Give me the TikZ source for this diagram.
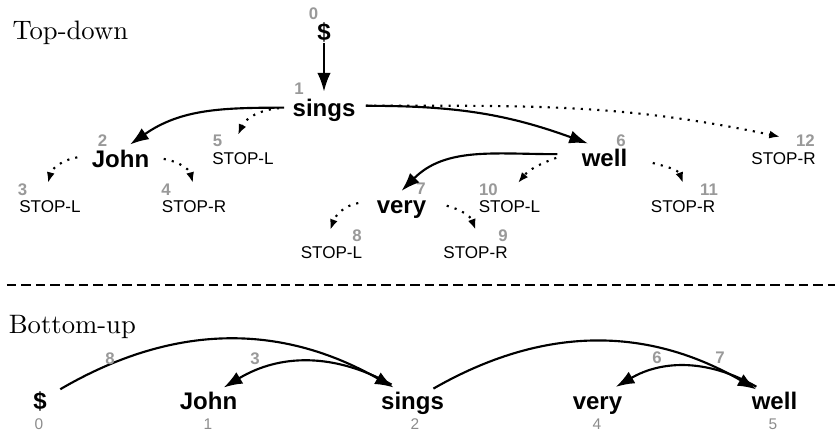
\documentclass[tikz,border=0pt]{standalone}
\usepackage{fontspec}
\newfontfamily\wordfont{Liberation Sans}
\usetikzlibrary{arrows.meta}

\tikzset{
	word/.style={font=\wordfont\bfseries\fontsize{9}{10}\selectfont, inner sep=0pt, anchor=base},
	stopw/.style={font=\wordfont\fontsize{6.4}{7}\selectfont, inner sep=0pt, anchor=base},
	idx/.style={font=\wordfont\bfseries\fontsize{6.3}{7}\selectfont, text=black!40, inner sep=0pt, anchor=base},
	posnum/.style={font=\wordfont\fontsize{5.8}{6}\selectfont, text=black!45, inner sep=0pt, anchor=base},
	title/.style={font=\fontsize{10}{12}\selectfont, inner sep=0pt, anchor=base west},
	dep/.style={line width=0.8pt, -{Latex[length=7pt,width=5pt]}},
	stoparc/.style={line width=0.8pt, dash pattern=on 0.8pt off 2.3pt, -{Latex[length=4pt,width=3pt]}},
	sepline/.style={line width=0.6pt, dash pattern=on 3.5pt off 1.9pt},
}

\begin{document}
\begin{tikzpicture}[x=0.375pt, y=0.375pt]
	\useasboundingbox (0,0) rectangle (835,-432);

	% top-down
	\node[title] (tdtitle) at (12,-39.3) {Top-down};
	\node[word] (dollar) at (324,-41) {\$};
	\node[word] (sings) at (324,-116.5) {sings};
	\node[word] (john) at (120.5,-167.5) {John};
	\node[word] (well) at (604.5,-166.5) {well};
	\node[word] (very) at (401.5,-214) {very};
	\node[stopw] (stop5) at (243,-165) {STOP-L};
	\node[stopw] (stop12) at (783.5,-165) {STOP-R};
	\node[stopw] (stop3) at (50,-213) {STOP-L};
	\node[stopw] (stop4) at (194,-213) {STOP-R};
	\node[stopw] (stop10) at (509.5,-213) {STOP-L};
	\node[stopw] (stop11) at (683,-213) {STOP-R};
	\node[stopw] (stop8) at (331.5,-258.5) {STOP-L};
	\node[stopw] (stop9) at (475.5,-259) {STOP-R};

	\node[idx] (n0) at (313.5,-20) {0};
	\node[idx] (n1) at (299,-95) {1};
	\node[idx] (n2) at (102.5,-147) {2};
	\node[idx] (n3) at (22.5,-196) {3};
	\node[idx] (n4) at (166,-196) {4};
	\node[idx] (n5) at (217.5,-147) {5};
	\node[idx] (n6) at (621,-147) {6};
	\node[idx] (n7) at (421,-195) {7};
	\node[idx] (n8) at (357,-242) {8};
	\node[idx] (n9) at (503,-242) {9};
	\node[idx] (n10) at (488.5,-196) {10};
	\node[idx] (n11) at (709,-196) {11};
	\node[idx] (n12) at (805.5,-147) {12};

	\draw[dep] (dollar.south) -- ([yshift=2.6pt]sings.north);
	\draw[dep] ([xshift=-3pt,yshift=1pt]sings.west) to[out=180,in=35] ([xshift=3.6pt,yshift=1.9pt]john.north);
	\draw[stoparc] ([xshift=-4.9pt,yshift=0.8pt]sings.west) to[out=185,in=65] ([xshift=-1.9pt,yshift=6.6pt]stop5.north);
	\draw[dep] ([xshift=3.75pt,yshift=1.7pt]sings.east) to[out=0,in=160] ([xshift=-6.2pt,yshift=1.9pt]well.north);
	\draw[stoparc] ([xshift=3.75pt,yshift=1.7pt]sings.east) to[out=0,in=168] ([xshift=-1.3pt,yshift=5.9pt]stop12.north);
	\draw[stoparc] ([xshift=-5.25pt,yshift=0.6pt]john.west) to[out=190,in=75] ([xshift=-0.75pt,yshift=6.6pt]stop3.north);
	\draw[stoparc] ([xshift=5.25pt]john.east) to[out=-10,in=105] ([xshift=-0.4pt,yshift=6.6pt]stop4.north);
	\draw[dep] ([xshift=-9pt,yshift=1.4pt]well.west) to[out=180,in=45] ([yshift=3.6pt]very.north);
	\draw[stoparc] ([xshift=-9.4pt]well.west) to[out=200,in=50] ([xshift=3.2pt,yshift=6.6pt]stop10.north);
	\draw[stoparc] ([xshift=9.4pt,yshift=-1.9pt]well.east) to[out=-15,in=110] ([yshift=6.6pt]stop11.north);
	\draw[stoparc] ([xshift=-6.75pt,yshift=2.6pt]very.west) to[out=190,in=70] ([xshift=-0.5pt,yshift=6pt]stop8.north);
	\draw[stoparc] ([xshift=7.5pt,yshift=1.6pt]very.east) to[out=-15,in=110] ([yshift=6.3pt]stop9.north);

	\draw[sepline] (7,-285) -- (835,-285);

	% bottom-up
	\node[title] (butitle) at (8.3,-333.3) {Bottom-up};
	\node[word] (b0) at (40,-410) {\$};
	\node[word] (b1) at (208.5,-410) {John};
	\node[word] (b2) at (412.5,-410) {sings};
	\node[word] (b4) at (597.5,-410) {very};
	\node[word] (b5) at (774.5,-410) {well};
	\node[posnum] (p0) at (39,-430) {0};
	\node[posnum] (p1) at (208,-430) {1};
	\node[posnum] (p2) at (415,-430) {2};
	\node[posnum] (p4) at (597,-430) {4};
	\node[posnum] (p5) at (773,-430) {5};

	\draw[dep] ([xshift=4.9pt,yshift=0.9pt]b0.north east) to[bend left=30] ([xshift=4.9pt,yshift=1.7pt]b2.north west);
	\draw[dep] ([xshift=4.1pt,yshift=2.8pt]b2.north west) to[bend right=30] ([xshift=-5.25pt,yshift=1.7pt]b1.north east);
	\draw[dep] ([xshift=-4.1pt,yshift=1.3pt]b2.north east) to[bend left=30] ([xshift=1.9pt,yshift=1pt]b5.north west);
	\draw[dep] ([xshift=1.9pt,yshift=2pt]b5.north west) to[bend right=30] ([xshift=-2.6pt,yshift=3.6pt]b4.north east);

	\node[idx] (e8) at (110,-365) {8};
	\node[idx] (e3) at (255,-365) {3};
	\node[idx] (e6) at (657,-364) {6};
	\node[idx] (e7) at (720,-364) {7};
\end{tikzpicture}
\end{document}
